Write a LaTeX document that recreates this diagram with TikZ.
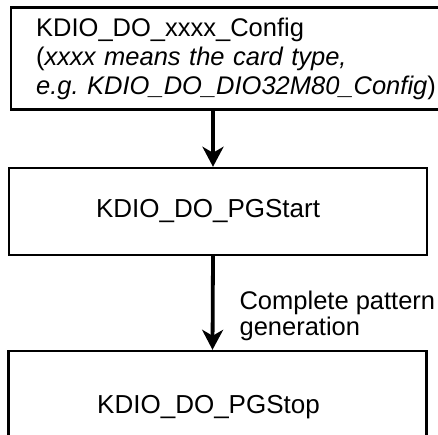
\documentclass[tikz,border=0pt]{standalone}
\usepackage{fontspec}
\setmainfont{Liberation Sans}
\usetikzlibrary{arrows.meta}

\tikzset{
  stepbox/.style={draw, line width=2.4pt, inner sep=0pt, font=\fontsize{26}{29}\selectfont},
  flow/.style={line width=3.8pt, -{Stealth[length=20pt,width=21pt,inset=6pt]}}
}

\begin{document}
\begin{tikzpicture}[x=1pt,y=-1pt]
\useasboundingbox (0,0) rectangle (438,435);
\node[stepbox, anchor=west, minimum height=102pt, text width=420pt, align=left, inner xsep=25pt,
      font=\fontsize{25.5}{29}\selectfont] (config) at (10,58.5)
  {KDIO\_DO\_xxxx\_Config\\
   (\textit{xxxx means the card type,}\\
   \textit{e.g.\ KDIO\_DO\_DIO32M80\_Config})};
\node[stepbox, minimum width=418pt, minimum height=87pt] (start) at (218,211.5) {\hspace*{-20pt}KDIO\_DO\_PGStart};
\node[stepbox, minimum width=418pt, minimum height=112pt] (stop) at (217.5,407) {\hspace*{-18pt}KDIO\_DO\_PGStop};
\draw[flow] ([xshift=-5pt]config.south -| start.north) -- ([xshift=-5pt]start.north); % first step
\draw[flow] ([xshift=-5pt]start.south) -- ([xshift=-5pt]stop.north)
  node[pos=0.64, right=25pt, align=left, inner sep=0pt, font=\fontsize{25.5}{26}\selectfont] (done) {Complete pattern\\generation};
\end{tikzpicture}
\end{document}
